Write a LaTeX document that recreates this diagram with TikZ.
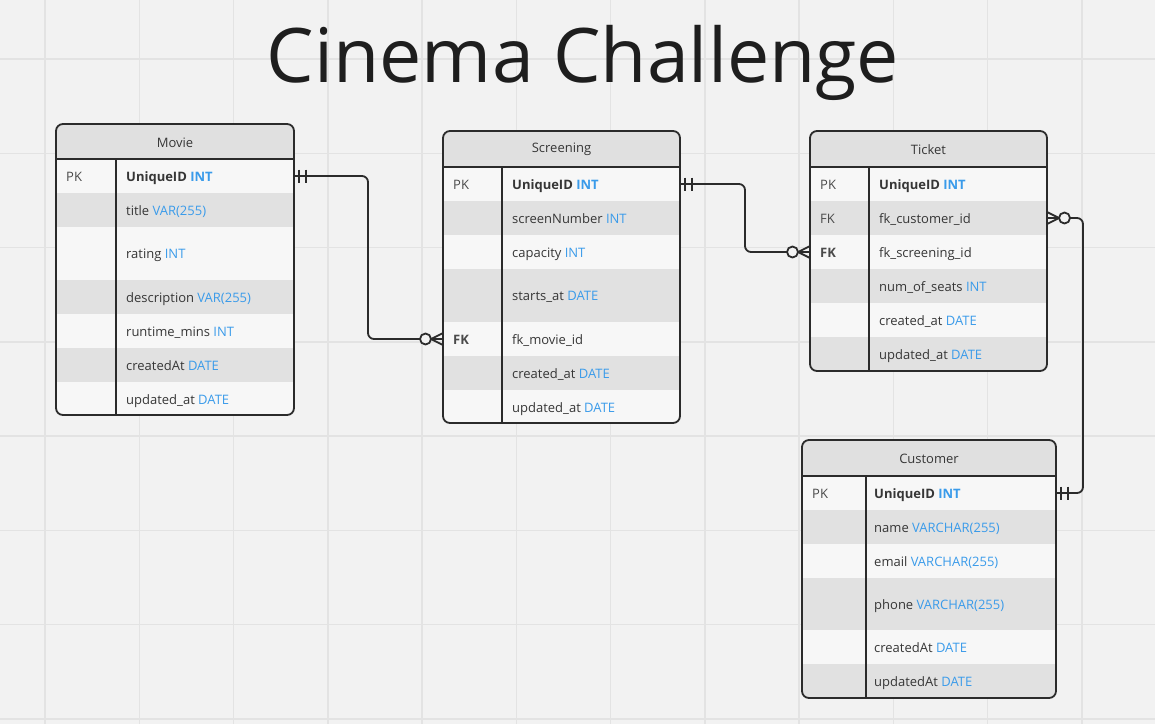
\documentclass[tikz,border=0pt]{standalone}
\usepackage{fontspec}
\setmainfont{Open Sans}
\usetikzlibrary{calc}
\definecolor{bg}{HTML}{F2F2F2}
\definecolor{gridc}{HTML}{E3E3E3}
\definecolor{hdr}{HTML}{E0E0E0}
\definecolor{lite}{HTML}{F7F7F7}
\definecolor{dark}{HTML}{E1E1E1}
\definecolor{txt}{HTML}{363636}
\definecolor{keyc}{HTML}{4A4A4A}
\definecolor{typc}{HTML}{3A9BEA}
\definecolor{linec}{HTML}{2B2B2B}
\definecolor{titlec}{HTML}{1E1E1E}
\newcommand{\ty}[1]{\textcolor{typc}{#1}}
\newcommand{\erow}[9]{%
  \node[rowbox, fill=#6, minimum width=#4, minimum height=#5, anchor=north west] (#1) at (#2,#3) {};
  \node[keytxt] (#1k) at ([xshift=10pt,yshift=-5pt]#1.west) {#8};
  \node[fldtxt] (#1f) at ([xshift={#7+10},yshift=-5pt]#1.west) {#9};
}
\newcommand{\zmanyL}[1]{%
  \draw[conn] ($(#1)+(-12,0)$) -- ($(#1)+(0,-6)$) ($(#1)+(-12,0)$) -- ($(#1)+(0,6)$);
  \draw[conn,fill=bg] ($(#1)+(-17.5,0)$) circle[radius=5.5pt];}
\newcommand{\zmanyR}[1]{%
  \draw[conn] ($(#1)+(12,0)$) -- ($(#1)+(0,-6)$) ($(#1)+(12,0)$) -- ($(#1)+(0,6)$);
  \draw[conn,fill=bg] ($(#1)+(17.5,0)$) circle[radius=5.5pt];}
\newcommand{\oneR}[1]{%
  \draw[conn] ($(#1)+(5,-6.5)$) -- ($(#1)+(5,6.5)$) ($(#1)+(12,-6.5)$) -- ($(#1)+(12,6.5)$);}
\begin{document}
\begin{tikzpicture}[x=1pt,y=-1pt,
  gridline/.style={draw=gridc, line width=1.5pt},
  rowbox/.style={draw=none, inner sep=0pt, outer sep=0pt},
  keytxt/.style={anchor=base west, inner sep=0pt, text=keyc, font=\fontsize{13}{15}\selectfont},
  fldtxt/.style={anchor=base west, inner sep=0pt, text=txt, font=\fontsize{13}{15}\selectfont},
  hdrtxt/.style={inner sep=0pt, text=txt, font=\fontsize{13}{15}\selectfont},
  border/.style={draw=linec, line width=1.8pt},
  conn/.style={draw=linec, line width=1.8pt},
  ]
\useasboundingbox (0,0) rectangle (1155,724);
\fill[bg] (0,0) rectangle (1155,724);
\foreach \i in {0,...,11} \draw[gridline] ({45+94.25*\i},0) -- ({45+94.25*\i},724);
\foreach \i in {0,...,7} \draw[gridline] (0,{59+94.25*\i}) -- (1155,{59+94.25*\i});

\node[anchor=base, inner sep=0pt, text=titlec, font=\fontsize{75.3}{80}\selectfont] (title) at (583,82) {Cinema Challenge};

% ---------------- Movie
\begin{scope}
\clip[rounded corners=7pt] (56,124) rectangle (294,415);
\fill[hdr] (56,124) rectangle (294,159);
\erow{mv1}{56}{159}{238}{34}{lite}{60}{PK}{\textbf{UniqueID} \ty{\textbf{INT}}}
\erow{mv2}{56}{193}{238}{34}{dark}{60}{}{title \ty{VAR(255)}}
\erow{mv3}{56}{227}{238}{53}{lite}{60}{}{rating \ty{INT}}
\erow{mv4}{56}{280}{238}{34}{dark}{60}{}{description \ty{VAR(255)}}
\erow{mv5}{56}{314}{238}{34}{lite}{60}{}{runtime\_mins \ty{INT}}
\erow{mv6}{56}{348}{238}{34}{dark}{60}{}{createdAt \ty{DATE}}
\erow{mv7}{56}{382}{238}{34}{lite}{60}{}{updated\_at \ty{DATE}}
\end{scope}
\node[hdrtxt] (mvh) at (175,142.5) {Movie};
\draw[border, rounded corners=7pt] (56,124) rectangle (294,415);
\draw[border] (56,159) -- (294,159) (116,159) -- (116,415);

% ---------------- Screening
\begin{scope}
\clip[rounded corners=7pt] (443,131) rectangle (680,423);
\fill[hdr] (443,131) rectangle (680,167);
\erow{sc1}{443}{167}{237}{34}{lite}{59}{PK}{\textbf{UniqueID} \ty{\textbf{INT}}}
\erow{sc2}{443}{201}{237}{34}{dark}{59}{}{screenNumber \ty{INT}}
\erow{sc3}{443}{235}{237}{34}{lite}{59}{}{capacity \ty{INT}}
\erow{sc4}{443}{269}{237}{53}{dark}{59}{}{starts\_at \ty{DATE}}
\erow{sc5}{443}{322}{237}{34}{lite}{59}{\textbf{FK}}{fk\_movie\_id}
\erow{sc6}{443}{356}{237}{34}{dark}{59}{}{created\_at \ty{DATE}}
\erow{sc7}{443}{390}{237}{34}{lite}{59}{}{updated\_at \ty{DATE}}
\end{scope}
\node[hdrtxt] (sch) at (561.5,149.5) {Screening};
\draw[border, rounded corners=7pt] (443,131) rectangle (680,423);
\draw[border] (443,167) -- (680,167) (502,167) -- (502,423);

% ---------------- Ticket
\begin{scope}
\clip[rounded corners=7pt] (810,131) rectangle (1047,371);
\fill[hdr] (810,131) rectangle (1047,167);
\erow{tk1}{810}{167}{237}{34}{lite}{59}{PK}{\textbf{UniqueID} \ty{\textbf{INT}}}
\erow{tk2}{810}{201}{237}{34}{dark}{59}{FK}{fk\_customer\_id}
\erow{tk3}{810}{235}{237}{34}{lite}{59}{\textbf{FK}}{fk\_screening\_id}
\erow{tk4}{810}{269}{237}{34}{dark}{59}{}{num\_of\_seats \ty{INT}}
\erow{tk5}{810}{303}{237}{34}{lite}{59}{}{created\_at \ty{DATE}}
\erow{tk6}{810}{337}{237}{34}{dark}{59}{}{updated\_at \ty{DATE}}
\end{scope}
\node[hdrtxt] (tkh) at (928.5,149.5) {Ticket};
\draw[border, rounded corners=7pt] (810,131) rectangle (1047,371);
\draw[border] (810,167) -- (1047,167) (869,167) -- (869,371);

% ---------------- Customer
\begin{scope}
\clip[rounded corners=7pt] (802,440) rectangle (1056,698);
\fill[hdr] (802,440) rectangle (1056,476);
\erow{cu1}{802}{476}{254}{34}{lite}{62}{PK}{\textbf{UniqueID} \ty{\textbf{INT}}}
\erow{cu2}{802}{510}{254}{34}{dark}{62}{}{name \ty{VARCHAR(255)}}
\erow{cu3}{802}{544}{254}{34}{lite}{62}{}{email \ty{VARCHAR(255)}}
\erow{cu4}{802}{578}{254}{52}{dark}{62}{}{phone \ty{VARCHAR(255)}}
\erow{cu5}{802}{630}{254}{34}{lite}{62}{}{createdAt \ty{DATE}}
\erow{cu6}{802}{664}{254}{34}{dark}{62}{}{updatedAt \ty{DATE}}
\end{scope}
\node[hdrtxt] (cuh) at (929,458.5) {Customer};
\draw[border, rounded corners=7pt] (802,440) rectangle (1056,698);
\draw[border] (802,476) -- (1056,476) (866,476) -- (866,698);

% ---------------- Connectors
\draw[conn, rounded corners=6pt] (mv1.east) -- ++(74,0) |- (sc5.west);
\oneR{mv1.east}
\zmanyL{sc5.west}

\draw[conn, rounded corners=6pt] (sc1.east) -- ++(65,0) |- (tk3.west);
\oneR{sc1.east}
\zmanyL{tk3.west}

\draw[conn, rounded corners=6pt] (tk2.east) -- ++(36,0) |- (cu1.east);
\zmanyR{tk2.east}
\oneR{cu1.east}
\end{tikzpicture}
\end{document}
